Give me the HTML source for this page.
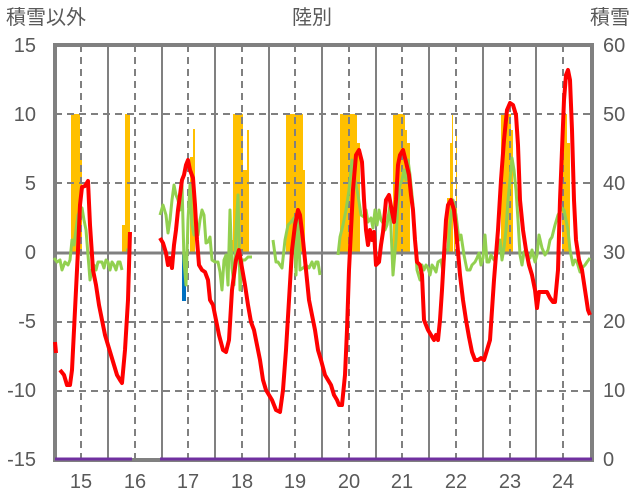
<!DOCTYPE html>
<html><head><meta charset="utf-8"><style>
body{margin:0;background:#fff}
svg{display:block}
text{font-family:"Liberation Sans","Noto Sans CJK JP",sans-serif;fill:#595959;font-size:20px}
</style></head><body>
<svg width="636" height="501" viewBox="0 0 636 501" xmlns="http://www.w3.org/2000/svg">
<text x="6" y="24">積雪以外</text>
<text x="312" y="24" text-anchor="middle">陸別</text>
<text x="630" y="24" text-anchor="end">積雪</text>
<g text-anchor="end">
<text x="36" y="52">15</text><text x="36" y="121">10</text><text x="36" y="190">5</text><text x="36" y="259">0</text>
<text x="36" y="328">-5</text><text x="36" y="397">-10</text><text x="36" y="466">-15</text>
</g>
<g>
<text x="603" y="52">60</text><text x="603" y="121">50</text><text x="603" y="190">40</text><text x="603" y="259">30</text>
<text x="603" y="328">20</text><text x="603" y="397">10</text><text x="603" y="466">0</text>
</g>
<g text-anchor="middle">
<text x="81" y="488">15</text><text x="135" y="488">16</text><text x="188" y="488">17</text><text x="242" y="488">18</text>
<text x="295" y="488">19</text><text x="349" y="488">20</text><text x="402" y="488">21</text><text x="456" y="488">22</text>
<text x="510" y="488">23</text><text x="563" y="488">24</text>
</g>
<g fill="#FFC000">
<rect x="71" y="114" width="9" height="139"/><rect x="80" y="155" width="2" height="98"/>
<rect x="122" y="225" width="3" height="28"/><rect x="125" y="114" width="5" height="139"/>
<rect x="190" y="157" width="3" height="96"/><rect x="193" y="129" width="2" height="124"/>
<rect x="230" y="240" width="3" height="13"/><rect x="233" y="114" width="10" height="139"/><rect x="243" y="170" width="5" height="83"/><rect x="247" y="130" width="2" height="123"/>
<rect x="286" y="114" width="17" height="139"/><rect x="303" y="170" width="2" height="83"/>
<rect x="340" y="114" width="17" height="139"/><rect x="357" y="143" width="3" height="110"/>
<rect x="393" y="114" width="12" height="139"/><rect x="405" y="130" width="2" height="123"/><rect x="407" y="143" width="3" height="110"/>
<rect x="447" y="198" width="3" height="55"/><rect x="450" y="143" width="2" height="110"/><rect x="452" y="115" width="1" height="138"/><rect x="454" y="230" width="1" height="23"/><rect x="456" y="130" width="1" height="123"/>
<rect x="501" y="114" width="10" height="139"/><rect x="511" y="130" width="2" height="123"/>
<rect x="562" y="114" width="5" height="139"/><rect x="567" y="143" width="3" height="110"/>
</g>
<rect x="182" y="253" width="4" height="48" fill="#0070C0"/>
<g stroke="#808080" stroke-width="2" fill="none">
<g stroke-dasharray="7,5">
<line x1="55" y1="114" x2="592" y2="114"/><line x1="55" y1="183" x2="592" y2="183"/>
<line x1="55" y1="322" x2="592" y2="322"/><line x1="55" y1="391" x2="592" y2="391"/>
<line x1="81" y1="45" x2="81" y2="460"/><line x1="135" y1="45" x2="135" y2="460"/><line x1="188" y1="45" x2="188" y2="460"/>
<line x1="242" y1="45" x2="242" y2="460"/><line x1="295" y1="45" x2="295" y2="460"/><line x1="349" y1="45" x2="349" y2="460"/>
<line x1="402" y1="45" x2="402" y2="460"/><line x1="456" y1="45" x2="456" y2="460"/><line x1="510" y1="45" x2="510" y2="460"/>
<line x1="563" y1="45" x2="563" y2="460"/>
</g>
<line x1="108" y1="45" x2="108" y2="460"/><line x1="162" y1="45" x2="162" y2="460"/><line x1="215" y1="45" x2="215" y2="460"/>
<line x1="269" y1="45" x2="269" y2="460"/><line x1="322" y1="45" x2="322" y2="460"/><line x1="376" y1="45" x2="376" y2="460"/>
<line x1="429" y1="45" x2="429" y2="460"/><line x1="483" y1="45" x2="483" y2="460"/><line x1="536" y1="45" x2="536" y2="460"/>
<line x1="55" y1="253" x2="592" y2="253" stroke-width="3"/>
</g>
<rect x="55" y="45" width="537" height="415" fill="none" stroke="#808080" stroke-width="4"/>
<line x1="55" y1="459" x2="132" y2="459" stroke="#7030A0" stroke-width="3"/>
<line x1="160" y1="459" x2="592" y2="459" stroke="#7030A0" stroke-width="3"/>
<g stroke="#92D050" stroke-width="3" fill="none" stroke-linejoin="round">
<polyline points="54,258 57,262 60,260 62,270 65,262 68,265 70,260 72,240 74,245 76,230 78,215 80,210 82,208 84,220 86,230 88,255 90,280 92,270 94,265 96,270 98,262 100,262 102,262 104,268 106,260 108,262 110,270 112,262 114,265 116,270 118,262 120,262 122,270"/>
<polyline points="126,250 131,250"/>
<polyline points="160,215 163,205 166,215 168,233 170,220 172,200 174,185 176,195 178,200 180,210 182,185 184,260 186,285 188,220 190,185 192,225 194,235 196,230 198,235 200,220 202,210 204,215 206,243 208,242 210,237 212,260 215,262 218,262 220,272 222,290 224,260 226,255 228,285 230,210 232,268 234,285 236,230 238,195 240,290 242,260 245,260 248,257 252,257"/>
<polyline points="273,240 276,262 278,262 280,265 282,268 285,240 288,225 291,222 294,218 296,275 298,215 300,270 303,268 306,265 309,268 312,262 314,268 316,262 318,262 320,275"/>
<polyline points="338,255 340,237 343,225 346,210 349,190 352,160 355,180 358,195 361,215 364,217 366,210 368,222 371,218 373,228 375,210 377,225 379,210 381,220 383,223 385,230 387,225 390,205 393,275 396,240 398,200 400,185 402,180 404,170 406,180 408,160 410,175 413,205 415,240 417,270 420,280 422,265 424,270 426,265 428,268 430,275 432,265 434,268 436,272 438,262 441,260 443,272 445,250 448,250 450,225 453,200 456,215 459,240 461,235 464,255 467,270 470,270 472,265 475,262 477,258 479,253 481,265 483,258 485,235 487,262 489,262 491,255 494,260 496,255 498,250 500,240 502,260 504,248 506,230 508,200 510,180 512,158 514,170 516,190 518,220 520,255 522,265 524,252 526,250 528,258 530,258 532,250 535,262 537,255 539,235 542,248 545,255 548,250 550,240 552,237 555,225 558,215 562,208 564,210 566,220 568,230 570,250 573,265 575,260 577,262 580,272 582,268 585,265 587,262 590,258"/>
</g>
<g stroke="#FF0000" stroke-width="4" fill="none" stroke-linejoin="round">
<polyline points="55,342 56,353"/>
<polyline points="60,370 64,375 67,385 70,385 72,370 74,330 76,290 78,250 80,205 82,187 85,186 88,181 90,225 93,270 96,285 99,305 102,320 105,335 108,345 111,355 114,365 117,375 120,380 122,383 125,350 128,300 130,232"/>
<polyline points="160,238 163,243 166,253 168,265 170,258 172,268 174,245 176,230 178,210 180,195 182,180 184,175 186,165 188,160 190,170 193,178 195,205 197,240 199,265 202,270 205,272 208,280 210,300 213,305 216,320 219,335 223,350 226,352 229,340 232,290 236,260 239,250 242,268 245,285 248,305 251,322 254,330 257,345 260,360 263,380 266,390 269,395 272,400 276,410 280,412 283,390 286,350 289,300 292,250 295,225 298,210 300,215 303,240 306,270 309,300 312,315 315,330 318,350 321,360 325,375 328,380 331,385 334,395 337,400 339,405 342,405 345,375 347,330 349,270 351,230 353,190 356,155 359,150 362,162 364,200 366,230 368,245 370,230 372,240 374,232 376,265 379,262 381,245 383,232 386,200 389,195 392,212 394,222 396,200 398,165 400,155 403,150 406,162 409,175 411,195 413,210 415,240 417,262 420,265 422,275 424,320 428,330 431,335 434,340 436,335 438,340 440,320 442,290 444,255 446,220 448,205 451,200 454,210 457,240 460,275 463,300 466,320 469,337 472,352 475,360 478,360 481,358 484,360 487,350 490,340 494,280 498,230 501,180 504,140 507,110 510,103 513,105 516,115 518,145 520,200 523,230 526,250 529,265 532,275 535,290 537,308 539,292 543,292 547,292 550,298 553,302 555,302 558,270 560,200 562,150 564,100 566,75 568,70 570,80 572,130 574,200 576,240 579,260 582,270 585,290 588,310 590,315"/>
</g>
</svg>
</body></html>
